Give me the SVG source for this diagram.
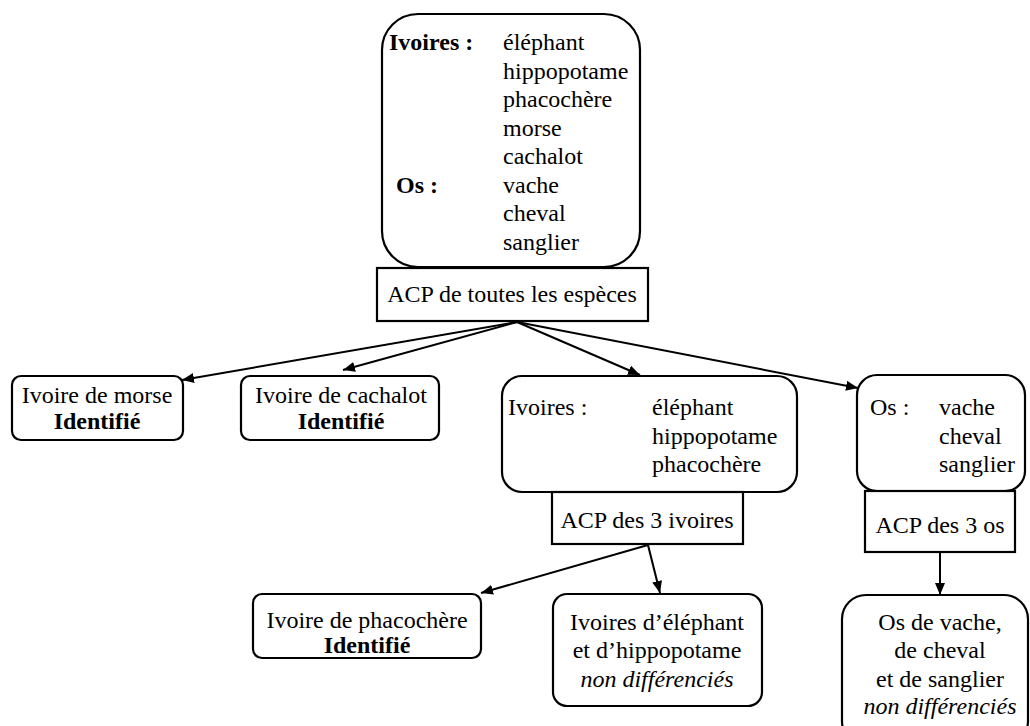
<svg xmlns="http://www.w3.org/2000/svg" width="1030" height="726" viewBox="0 0 1030 726">
<defs>
<style>
text{font-family:'Liberation Serif','Times New Roman','DejaVu Serif',serif;font-size:24px;fill:#000}
.b{font-weight:bold}
.i{font-style:italic}
.m{text-anchor:middle}
.box{fill:#fff;stroke:#000;stroke-width:2.2}
.edge{stroke:#000;stroke-width:2;fill:none;marker-end:url(#ah)}
</style>
<marker id="ah" viewBox="0 0 12 10" refX="12" refY="5" markerWidth="12" markerHeight="10" markerUnits="userSpaceOnUse" orient="auto">
<path d="M0,0 L12,5 L0,10 z" fill="#000"/>
</marker>
</defs>
<rect width="1030" height="726" fill="#fff"/>
<g id="connectors">
<line class="edge" x1="517" y1="322" x2="182" y2="380"/>
<line class="edge" x1="517" y1="322" x2="343" y2="370"/>
<line class="edge" x1="517" y1="322" x2="640" y2="375"/>
<line class="edge" x1="517" y1="322" x2="858" y2="388"/>
<line class="edge" x1="648" y1="545" x2="481" y2="593"/>
<line class="edge" x1="648" y1="545" x2="660" y2="593"/>
<line class="edge" x1="940" y1="552" x2="940" y2="595"/>
</g>
<g font-family="Liberation Serif, Times New Roman, DejaVu Serif, serif" font-size="24">
<g id="n_all">
<rect class="box" x="382" y="14" width="258" height="253" rx="36"/>
<text class="b" x="389" y="50">Ivoires :</text>
<text class="b" x="396" y="192.5">Os :</text>
<text x="503" y="50">éléphant</text>
<text x="503" y="78.5">hippopotame</text>
<text x="503" y="107">phacochère</text>
<text x="503" y="135.5">morse</text>
<text x="503" y="164">cachalot</text>
<text x="503" y="192.5">vache</text>
<text x="503" y="221">cheval</text>
<text x="503" y="249.5">sanglier</text>
</g>
<g id="n_acp_all">
<rect class="box" x="377" y="268" width="271" height="53"/>
<text class="m" x="512" y="302">ACP de toutes les espèces</text>
</g>
<g id="n_morse">
<rect class="box" x="12" y="376" width="171" height="64" rx="9"/>
<text class="m" x="97" y="403">Ivoire de morse</text>
<text class="m b" x="97" y="429">Identifié</text>
</g>
<g id="n_cachalot">
<rect class="box" x="241" y="376" width="198" height="64" rx="9"/>
<text class="m" x="341" y="403">Ivoire de cachalot</text>
<text class="m b" x="341" y="429">Identifié</text>
</g>
<g id="n_ivoires3">
<rect class="box" x="502" y="376" width="295" height="116" rx="20"/>
<text x="508" y="415">Ivoires :</text>
<text x="652" y="415">éléphant</text>
<text x="652" y="443.5">hippopotame</text>
<text x="652" y="472">phacochère</text>
</g>
<g id="n_acp_ivoires">
<rect class="box" x="552" y="492" width="191" height="52"/>
<text class="m" x="647" y="528">ACP des 3 ivoires</text>
</g>
<g id="n_os3">
<rect class="box" x="857" y="375" width="168" height="116" rx="20"/>
<text x="870" y="415">Os :</text>
<text x="939" y="415">vache</text>
<text x="939" y="443.5">cheval</text>
<text x="939" y="472">sanglier</text>
</g>
<g id="n_acp_os">
<rect class="box" x="865" y="491" width="150" height="61"/>
<text class="m" x="940" y="533">ACP des 3 os</text>
</g>
<g id="n_phaco">
<rect class="box" x="253" y="594" width="228" height="64" rx="9"/>
<text class="m" x="367" y="628">Ivoire de phacochère</text>
<text class="m b" x="367" y="653">Identifié</text>
</g>
<g id="n_eleph">
<rect class="box" x="553" y="594" width="209" height="112" rx="14"/>
<text class="m" x="657" y="630">Ivoires d’éléphant</text>
<text class="m" x="657" y="658">et d’hippopotame</text>
<text class="m i" x="657" y="687">non différenciés</text>
</g>
<g id="n_os_final">
<rect class="box" x="842" y="595" width="186" height="150" rx="24"/>
<text class="m" x="940" y="630">Os de vache,</text>
<text class="m" x="940" y="658">de cheval</text>
<text class="m" x="940" y="687">et de sanglier</text>
<text class="m i" x="940" y="714">non différenciés</text>
</g>
</g>
</svg>
